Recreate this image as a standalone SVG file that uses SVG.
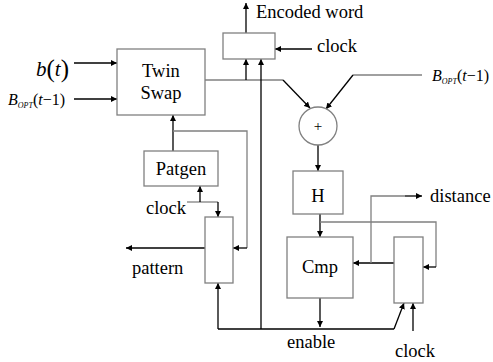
<svg xmlns="http://www.w3.org/2000/svg" width="493" height="362" viewBox="0 0 493 362">
<defs>
<marker id="ah" viewBox="0 0 10 10" refX="10" refY="5" markerWidth="6" markerHeight="6" markerUnits="userSpaceOnUse" orient="auto">
<path d="M0,0 L10,5 L0,10 z" fill="#000"/>
</marker>
</defs>
<style>
.box{fill:#fff;stroke:#808080;stroke-width:1.3}
.ln{fill:none;stroke:#000;stroke-width:1.3}
.gl{fill:none;stroke:#808080;stroke-width:1.3}
.ar{fill:none;stroke:#000;stroke-width:1.3;marker-end:url(#ah)}
text{fill:#000}
.t{font-size:18.5px}
.s{font-size:8px}
</style>
<rect width="493" height="362" fill="#fff"/>
<g id="connectors">
<line class="ar" x1="74" y1="63" x2="117" y2="63"/>
<line class="ar" x1="74" y1="99" x2="117" y2="99"/>
<line class="ar" x1="246" y1="33" x2="246" y2="3"/>
<line class="ar" x1="312" y1="49" x2="275" y2="49"/>
<polyline class="gl" points="205,80 283,80"/>
<line class="ar" x1="283" y1="80" x2="310" y2="108"/>
<line class="ar" x1="246" y1="80" x2="246" y2="59"/>
<line class="ar" x1="261" y1="329" x2="261" y2="59"/>
<polyline class="gl" points="422,75 353,75"/>
<line class="ar" x1="353" y1="75" x2="326" y2="109"/>
<line class="ar" x1="318" y1="145" x2="318" y2="171"/>
<line class="ar" x1="320" y1="214" x2="320" y2="237"/>
<polyline class="gl" points="320,222 436,222 436,267"/>
<line class="ar" x1="436" y1="267" x2="423" y2="267"/>
<line class="ar" x1="394" y1="263" x2="353" y2="263"/>
<polyline class="gl" points="371,263 371,196 405,196"/>
<line class="ar" x1="405" y1="196" x2="422" y2="196"/>
<line class="ar" x1="320" y1="298" x2="320" y2="327"/>
<polyline class="ln" points="218,329 394,329"/>
<line class="ar" x1="394" y1="329" x2="404" y2="303"/>
<line class="ar" x1="413" y1="331" x2="413" y2="303"/>
<line class="ar" x1="173" y1="151" x2="173" y2="115"/>
<polyline class="gl" points="173,131 247,131 247,248"/>
<line class="ar" x1="247" y1="248" x2="233" y2="248"/>
<line class="ar" x1="205" y1="248" x2="126" y2="248"/>
<line class="ar" x1="218" y1="329" x2="218" y2="283"/>
<polyline class="gl" points="187,202 218,202"/>
<line class="ar" x1="218" y1="202" x2="218" y2="217"/>
<line class="ar" x1="200" y1="202" x2="200" y2="186"/>
</g>
<g font-family="'Liberation Serif', 'Times New Roman', 'DejaVu Serif', serif">
<g id="twinswap">
<rect class="box" x="117" y="49" width="88" height="66"/>
<text class="t" x="161" y="77" text-anchor="middle">Twin</text>
<text class="t" x="161" y="99" text-anchor="middle">Swap</text>
</g>
<g id="encreg">
<rect class="box" x="223" y="33" width="52" height="26"/>
</g>
<g id="adder">
<circle cx="318" cy="126" r="19" fill="#fff" stroke="#808080" stroke-width="1.3"/>
<text x="318" y="131" font-size="15" text-anchor="middle" fill="#555">+</text>
</g>
<g id="h">
<rect class="box" x="293" y="171" width="50" height="43"/>
<text class="t" x="318" y="202" text-anchor="middle">H</text>
</g>
<g id="cmp">
<rect class="box" x="287" y="237" width="66" height="61"/>
<text class="t" x="320" y="273" text-anchor="middle">Cmp</text>
</g>
<g id="distreg">
<rect class="box" x="394" y="237" width="29" height="66"/>
</g>
<g id="patgen">
<rect class="box" x="144" y="151" width="74" height="35"/>
<text class="t" x="181" y="175" text-anchor="middle">Patgen</text>
</g>
<g id="patreg">
<rect class="box" x="205" y="217" width="28" height="66"/>
</g>
<g id="labels">
<text x="36" y="76" font-size="21"><tspan font-style="italic">b</tspan><tspan font-size="25" dy="1">(</tspan><tspan font-style="italic" dy="-1">t</tspan><tspan font-size="25" dy="1">)</tspan></text>
<text x="8" y="105" font-size="16"><tspan font-style="italic">B</tspan><tspan class="s" font-style="italic" dy="3">OPT</tspan><tspan dy="-3">(</tspan><tspan font-style="italic">t</tspan>−1)</text>
<text x="432" y="81" font-size="16"><tspan font-style="italic">B</tspan><tspan font-size="8" font-style="italic" dy="3">OPT</tspan><tspan dy="-3">(</tspan><tspan font-style="italic">t</tspan>−1)</text>
<text class="t" x="256" y="18">Encoded word</text>
<text class="t" x="317" y="52">clock</text>
<text class="t" x="430" y="202">distance</text>
<text class="t" x="146" y="214">clock</text>
<text class="t" x="132" y="274">pattern</text>
<text class="t" x="287" y="348">enable</text>
<text class="t" x="395" y="357">clock</text>
</g>
</g>
</svg>
